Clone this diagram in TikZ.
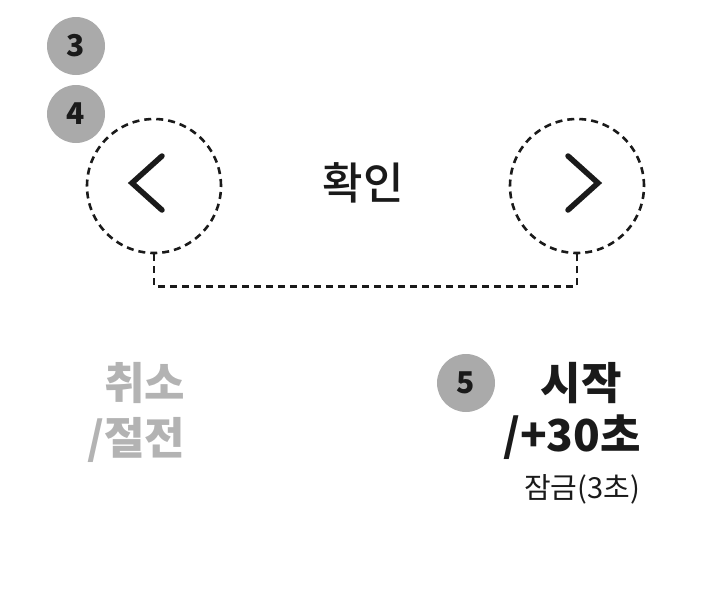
\documentclass[tikz,border=0pt]{standalone}
\usepackage{fontspec}
\setmainfont{Noto Sans CJK KR}
\newfontfamily\krmedium{Noto Sans CJK KR Medium}
\definecolor{badgegray}{HTML}{AAAAAA}
\definecolor{textgray}{HTML}{B3B3B3}
\definecolor{inkblack}{HTML}{1A1A1A}
\tikzset{
  badge/.style={circle,fill=badgegray,minimum size=58pt,inner sep=0pt,text=inkblack,font=\bfseries\fontsize{30}{30}\selectfont},
  dashring/.style={circle,draw=inkblack,dashed,dash pattern=on 7pt off 5pt,line width=2.6pt,minimum size=134pt,inner sep=0pt},
  chevron/.style={draw=inkblack,line width=5.5pt,line cap=round,line join=miter},
  keylabel/.style={font=\bfseries\fontsize{44}{44}\selectfont}
}
\begin{document}
\begin{tikzpicture}[x=1pt,y=-1pt]
  \useasboundingbox (0,0) rectangle (709,603);
  % number badges
  \node[badge] (n3) at (76,46) {3};
  \node[badge] (n4) at (76,114) {4};
  \node[badge] (n5) at (466,383) {5};
  % buttons
  \node[dashring] (leftbtn) at (154,186) {};
  \node[dashring] (rightbtn) at (577,186) {};
  \draw[chevron] (162,156) -- (132,183) -- (162,210);
  \draw[chevron] (568,156) -- (598,183) -- (568,210);
  \draw[draw=inkblack,dash pattern=on 7pt off 5pt,line width=2.6pt] (leftbtn.south) -- ++(0,32) coordinate (bend) -| (rightbtn.south);
  % labels
  \node[text=inkblack,font=\krmedium\fontsize{44}{44}\selectfont] (ok) at (363,183) {확인};
  \node[keylabel,text=textgray,anchor=east] (cancel) at (189,383) {취소};
  \node[keylabel,text=textgray,anchor=east] (off) at (189,440) {/절전};
  \node[keylabel,text=inkblack] (start) at (581,383) {시작};
  \node[keylabel,text=inkblack] (plus) at (572,437) {/+30초};
  \node[text=inkblack,font=\fontsize{29}{29}\selectfont] (lock) at (582,489) {잠금(3초)};
\end{tikzpicture}
\end{document}
